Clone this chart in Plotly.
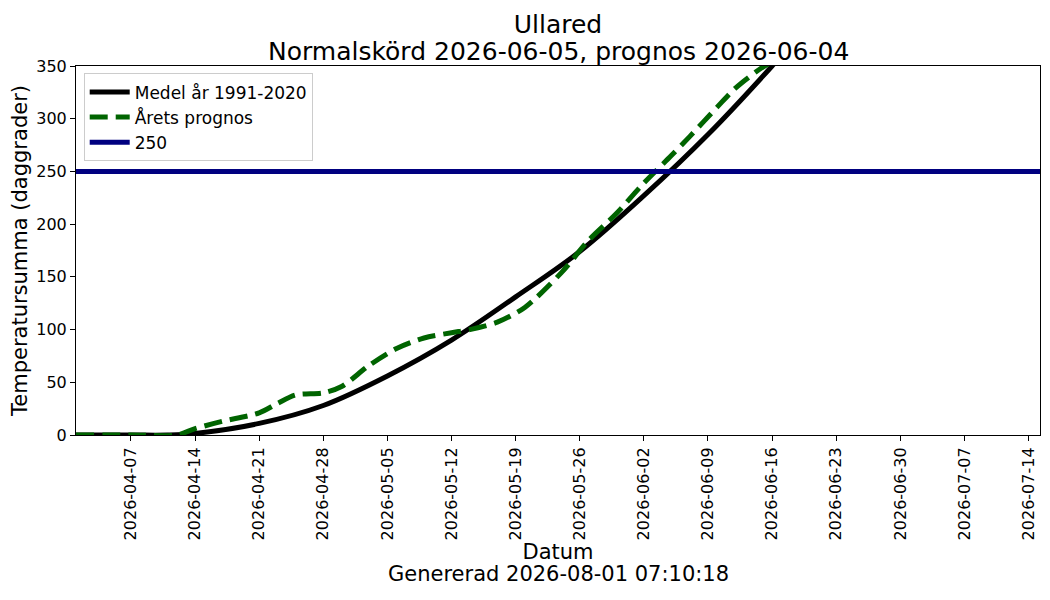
import plotly.graph_objects as go

# Mean (1991-2020) accumulated day-degrees
mean_dates = ["2026-04-01", "2026-04-07", "2026-04-11", "2026-04-14", "2026-04-21", "2026-04-28",
              "2026-05-05", "2026-05-12", "2026-05-19", "2026-05-26", "2026-06-02", "2026-06-09",
              "2026-06-16", "2026-06-23", "2026-06-30", "2026-07-07", "2026-07-15"]
mean_vals = [0, 0, 0, 1.5, 11, 28, 56, 90, 131, 174, 227, 285, 350, 420, 495, 575, 660]

# This year's forecast
prog_dates = ["2026-04-01", "2026-04-07", "2026-04-12", "2026-04-14", "2026-04-17", "2026-04-21",
              "2026-04-23", "2026-04-25", "2026-04-28", "2026-04-30", "2026-05-03", "2026-05-06",
              "2026-05-09", "2026-05-12", "2026-05-14", "2026-05-17", "2026-05-20", "2026-05-24",
              "2026-05-27", "2026-05-30", "2026-06-02", "2026-06-05", "2026-06-07", "2026-06-10",
              "2026-06-12", "2026-06-15", "2026-06-17"]
prog_vals = [0, 0, 0, 6, 13, 21, 30, 38, 40, 46, 66, 82, 92, 97, 100, 107, 121, 154, 185, 210, 239, 265,
             283, 311, 329, 349, 358]

threshold_dates = ["2026-04-01", "2026-07-15 06:00"]
threshold_vals = [250, 250]

tick_dates = ["2026-04-07", "2026-04-14", "2026-04-21", "2026-04-28", "2026-05-05", "2026-05-12",
              "2026-05-19", "2026-05-26", "2026-06-02", "2026-06-09", "2026-06-16", "2026-06-23",
              "2026-06-30", "2026-07-07", "2026-07-14"]
y_ticks = [0, 50, 100, 150, 200, 250, 300, 350]

title_line1 = "Ullared"
title_line2 = "Normalskörd 2026-06-05, prognos 2026-06-04"
generated_text = "Genererad 2026-08-01 07:10:18"

font = "DejaVu Sans"
W, H = 1034, 584
ML, MR, MT, MB = 68, 2, 58, 157
PH = H - MT - MB

fig = go.Figure()
fig.add_trace(go.Scatter(x=mean_dates, y=mean_vals, mode="lines", name="Medel år 1991-2020",
                         line=dict(color="black", width=5, shape="spline", smoothing=1.0)))
fig.add_trace(go.Scatter(x=prog_dates, y=prog_vals, mode="lines", name="Årets prognos",
                         line=dict(color="#006400", width=5, dash="18px,8px", shape="spline", smoothing=0.8)))
fig.add_trace(go.Scatter(x=threshold_dates, y=threshold_vals, mode="lines", name="250",
                         line=dict(color="#000080", width=5)))

fig.update_layout(
    width=W, height=H,
    paper_bgcolor="white", plot_bgcolor="white",
    font=dict(family=font, size=16, color="black"),
    margin=dict(l=ML, r=MR, t=MT, b=MB, autoexpand=False),
    title=dict(text=title_line1,
               x=0.5, xanchor="center", xref="paper", y=1 - 16 / H, yanchor="middle", yref="container",
               font=dict(size=25, family=font, color="black")),
    annotations=[
        dict(text=title_line2, xref="paper", yref="paper", x=0.5, y=1 + (MT - 43) / PH,
             xanchor="center", yanchor="middle", showarrow=False, font=dict(size=25, family=font)),
        dict(text=generated_text, xref="paper", yref="paper", x=0.5, y=-(566 - (H - MB)) / PH,
             xanchor="center", yanchor="middle", showarrow=False, font=dict(size=21, family=font)),
    ],
    showlegend=True,
    legend=dict(x=0.008, y=0.98, xanchor="left", yanchor="top",
                bgcolor="rgba(255,255,255,0.8)", bordercolor="#cccccc", borderwidth=1,
                font=dict(size=17, family=font), itemwidth=40, tracegroupgap=4),
    xaxis=dict(range=["2026-04-01", "2026-07-15 06:00"], tickvals=tick_dates, tickformat="%Y-%m-%d",
               tickangle=-90, ticks="outside", ticklen=5, tickcolor="black", automargin=False,
               showline=True, linecolor="black", linewidth=1, mirror=True, showgrid=False, zeroline=False,
               tickfont=dict(size=16),
               title=dict(text="Datum", font=dict(size=21), standoff=2)),
    yaxis=dict(range=[0, 350], tickvals=y_ticks, ticks="outside", ticklen=5, tickcolor="black",
               showline=True, linecolor="black", linewidth=1, mirror=True, showgrid=False, zeroline=False,
               tickfont=dict(size=16), automargin=False,
               title=dict(text="Temperatursumma (daggrader)", font=dict(size=21), standoff=4)),
)

fig.write_html("out.html")
